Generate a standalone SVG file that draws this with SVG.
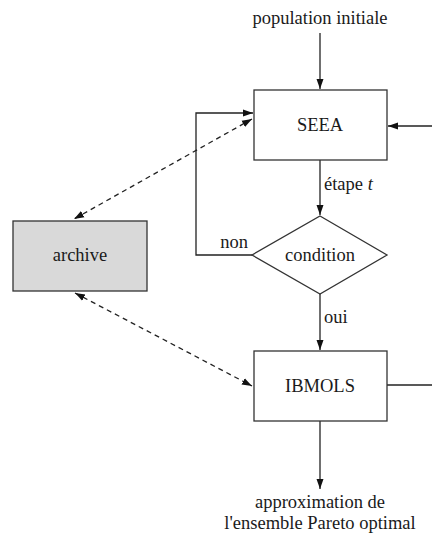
<svg xmlns="http://www.w3.org/2000/svg" width="432" height="536" viewBox="0 0 432 536">
<style>
text{font-size:18.5px;fill:#1a1a1a}
.b{fill:#fff;stroke:#333;stroke-width:1.3}
.c{fill:none;stroke:#222;stroke-width:1.3}
.d{fill:none;stroke:#222;stroke-width:1.3;stroke-dasharray:5,4}
</style>
<defs>
<marker id="a" viewBox="0 0 10 10" refX="10" refY="5" markerWidth="10" markerHeight="10" markerUnits="userSpaceOnUse" orient="auto-start-reverse">
<path d="M0,1.5 L10,5 L0,8.5 z" fill="#111"/>
</marker>
</defs>
<g font-family="Liberation Serif, Times New Roman, serif">
<g id="connectors">
<line class="c" x1="320" y1="33" x2="320" y2="89" marker-end="url(#a)"/>
<line class="c" x1="432" y1="126" x2="388" y2="126" marker-end="url(#a)"/>
<line class="c" x1="320" y1="160" x2="320" y2="215" marker-end="url(#a)"/>
<polyline class="c" points="252,255 196,255 196,113 253,113" marker-end="url(#a)"/>
<line class="c" x1="320" y1="294" x2="320" y2="350" marker-end="url(#a)"/>
<line class="c" x1="387" y1="385" x2="432" y2="385"/>
<line class="c" x1="320" y1="421" x2="320" y2="489" marker-end="url(#a)"/>
<line class="d" x1="252" y1="119" x2="74" y2="219" marker-start="url(#a)" marker-end="url(#a)"/>
<line class="d" x1="75" y1="293" x2="252" y2="386" marker-start="url(#a)" marker-end="url(#a)"/>
<text x="324" y="190">étape <tspan font-style="italic">t</tspan></text>
<text x="234" y="248" text-anchor="middle">non</text>
<text x="324" y="323">oui</text>
</g>
<g id="population"><text x="320" y="24" text-anchor="middle">population initiale</text></g>
<g id="seea"><rect class="b" x="254" y="90" width="133" height="70"/><text x="320" y="131" text-anchor="middle">SEEA</text></g>
<g id="condition"><polygon class="b" points="320,216 387,255 320,294 252,255"/><text x="320" y="261" text-anchor="middle">condition</text></g>
<g id="archive"><rect x="13" y="221" width="134" height="70" fill="#d9d9d9" stroke="#333" stroke-width="1.3"/><text x="80" y="261" text-anchor="middle">archive</text></g>
<g id="ibmols"><rect class="b" x="254" y="351" width="133" height="70"/><text x="320" y="392" text-anchor="middle">IBMOLS</text></g>
<g id="result"><text x="320" y="508" text-anchor="middle">approximation de</text><text x="320" y="529" text-anchor="middle">l'ensemble Pareto optimal</text></g>
</g>
</svg>
